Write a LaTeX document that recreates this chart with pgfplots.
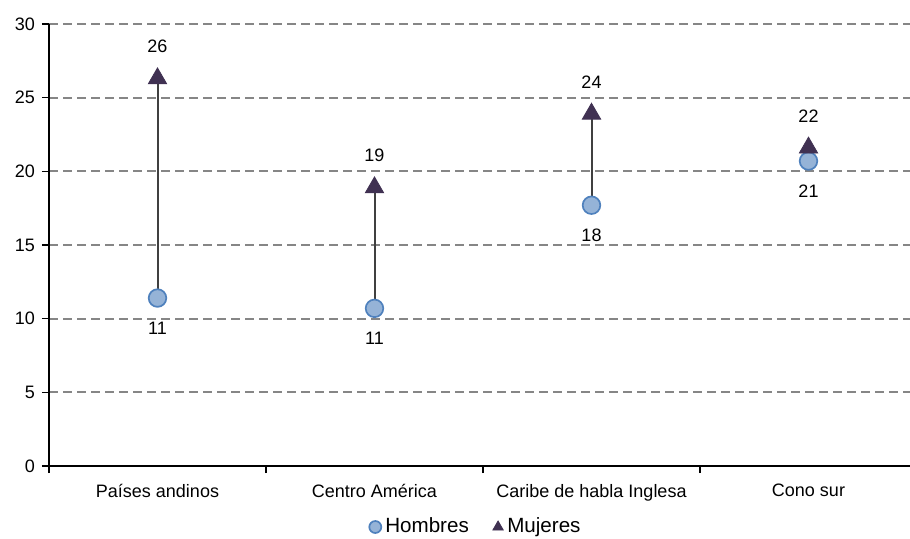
\documentclass[border=0pt]{standalone}
\usepackage{fontspec}
\setmainfont{Liberation Sans}
\usepackage{pgfplots}
\pgfplotsset{compat=1.18}
\usepackage{pgfplotstable}
\definecolor{hfill}{HTML}{95B3D7}
\definecolor{hedge}{HTML}{4F81BD}
\definecolor{mfill}{HTML}{403152}
\definecolor{linec}{HTML}{404040}
\definecolor{gridc}{HTML}{868686}
\pgfplotstableread{
x h hl m ml
0 11.4 11 26.3 26
1 10.7 11 18.9 19
2 17.7 18 23.9 24
3 20.7 21 21.6 22
}\data
\begin{document}
\begin{tikzpicture}
\path[use as bounding box] (-24.5pt,-36pt) rectangle (430.5pt,233pt);
\clip (-24.5pt,-36pt) rectangle (430.5pt,233pt);
\begin{axis}[
  at={(0pt,0pt)}, anchor=south west,
  scale only axis, width=434pt, height=221pt,
  xmin=-0.5, xmax=3.5, ymin=0, ymax=30,
  ytick={0,5,...,30},
  xtick={0,1,2,3},
  xticklabels={Países andinos, Centro América, Caribe de habla Inglesa, Cono sur},
  minor xtick={-0.5,0.5,1.5,2.5,3.5},
  axis x line*=bottom, axis y line*=left,
  axis line style={-, black, line width=1pt},
  tick align=outside,
  major tick length=3.5pt, minor tick length=3.5pt,
  major x tick style={draw=none},
  every tick/.style={black, line width=0.8pt},
  minor tick style={black, line width=0.8pt},
  ymajorgrids,
  major grid style={gridc, line width=1pt, dash pattern=on 4.5pt off 2.5pt},
  tick label style={font=\fontsize{9}{11}\selectfont},
  /pgf/number format/assume math mode=true,
  xticklabel style={yshift=-2pt},
  legend style={at={(0.493,-0.138)}, anchor=center, draw=none, fill=none,
    legend columns=2, font=\fontsize{10.3}{12}\selectfont, inner sep=0pt,
    /tikz/every even column/.append style={column sep=10pt}},
  legend image code/.code={\draw[#1, mark size=3pt] plot coordinates {(0pt,0pt)};},
  clip=false,
]
\addplot[forget plot, linec, line width=1pt] coordinates {(0,11.4) (0,26.3)};
\addplot[forget plot, linec, line width=1pt] coordinates {(1,10.7) (1,18.9)};
\addplot[forget plot, linec, line width=1pt] coordinates {(2,17.7) (2,23.9)};
\addplot[forget plot, linec, line width=1pt] coordinates {(3,20.7) (3,21.6)};
\addplot[only marks, mark=*, mark size=4.4pt,
  mark options={fill=hfill, draw=hedge, line width=0.85pt},
  nodes near coords, point meta=explicit symbolic,
  every node near coord/.style={anchor=center, yshift=-15pt, black, font=\fontsize{9}{11}\selectfont}]
  table[x=x, y=h, meta=hl]{\data};
\addlegendentry{Hombres}
\addplot[only marks, mark=triangle*, mark size=5.3pt,
  mark options={fill=mfill, draw=mfill},
  nodes near coords, point meta=explicit symbolic,
  every node near coord/.style={anchor=center, yshift=16pt, black, font=\fontsize{9}{11}\selectfont}]
  table[x=x, y=m, meta=ml]{\data};
\addlegendentry{Mujeres}
\end{axis}
\end{tikzpicture}
\end{document}
